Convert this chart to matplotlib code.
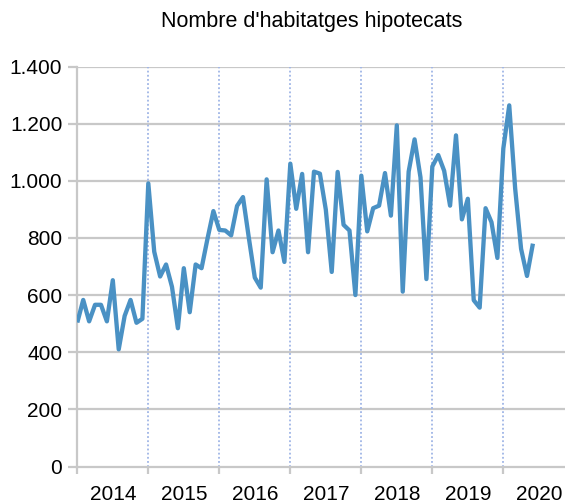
import matplotlib
matplotlib.use("Agg")
import matplotlib.pyplot as plt
import numpy as np

plt.rcParams['font.family'] = ['Liberation Sans', 'DejaVu Sans']

title = "Nombre d'habitatges hipotecats"
years = ["2014", "2015", "2016", "2017", "2018", "2019", "2020"]
values_2014 = [504, 583, 508, 566, 566, 508, 652, 410, 527, 583, 503, 517]
values_2015 = [991, 752, 665, 707, 629, 484, 694, 540, 707, 694, 797, 894]
values_2016 = [828, 826, 809, 912, 943, 799, 661, 626, 1005, 750, 826, 716]
values_2017 = [1060, 902, 1024, 750, 1032, 1025, 899, 681, 1031, 846, 826, 600]
values_2018 = [1018, 823, 904, 913, 1027, 878, 1194, 612, 1032, 1145, 1012, 656]
values_2019 = [1050, 1090, 1035, 913, 1159, 865, 937, 582, 556, 904, 855, 730]
values_2020 = [1113, 1264, 973, 762, 667, 780]
y_ticks = [0, 200, 400, 600, 800, 1000, 1200, 1400]
y_tick_labels = ["0", "200", "400", "600", "800", "1.000", "1.200", "1.400"]

values = (values_2014 + values_2015 + values_2016 + values_2017 +
          values_2018 + values_2019 + values_2020)
months = np.arange(len(values))

W, H = 565, 504
fig = plt.figure(figsize=(W / 100, H / 100), dpi=100)
left_px, right_px, bottom_px, top_px = 77.3, 565, 466.5, 66.5
ax = fig.add_axes([left_px / W, 1 - bottom_px / H,
                   (right_px - left_px) / W, (bottom_px - top_px) / H])

px_per_month = 5.917
ax.set_xlim(0, (right_px - left_px) / px_per_month)
ax.set_ylim(0, 1400)

grid_col = "#c8c8c8"
ax.set_yticks(y_ticks)
ax.set_yticklabels(y_tick_labels, fontsize=15)
for y in y_ticks[1:]:
    ax.axhline(y, color=grid_col, lw=1.6, zorder=1)

boundaries = [12 * k for k in range(len(years))]
for b in boundaries[1:]:
    ax.axvline(b, color="#9fb5e6", lw=1.3, ls=(0, (1, 1.3)), zorder=1)

ax.plot(months, values, color="#4a91c4", lw=3.1, zorder=3,
        solid_joinstyle="round", solid_capstyle="butt")

ax.set_xticks(boundaries)
ax.set_xticklabels([""] * len(boundaries))
ax.set_xticks([12 * k + 6 for k in range(len(years))], minor=True)
ax.set_xticklabels(years, minor=True, fontsize=15)
ax.tick_params(axis="x", which="major", length=5, width=1.6, color=grid_col)
ax.tick_params(axis="x", which="minor", length=0, pad=13)
ax.tick_params(axis="y", length=6.5, width=1.6, color=grid_col, pad=4.3)

for s in ["top", "right"]:
    ax.spines[s].set_visible(False)
for s in ["left", "bottom"]:
    ax.spines[s].set_color(grid_col)
    ax.spines[s].set_linewidth(1.6)

fig.text(311.8 / W, 1 - 22 / H, title, ha="center", va="center", fontsize=15.5)

fig.savefig("out.png", dpi=100)
